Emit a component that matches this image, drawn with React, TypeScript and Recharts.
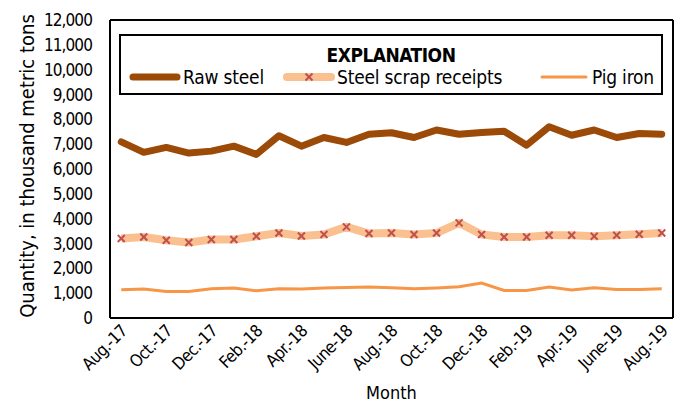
import { LineChart, Line, XAxis, YAxis, Legend } from "recharts";

const months = [
  "Aug.-17", "Sept.-17", "Oct.-17", "Nov.-17", "Dec.-17", "Jan.-18", "Feb.-18",
  "Mar.-18", "Apr.-18", "May-18", "June-18", "July-18", "Aug.-18", "Sept.-18",
  "Oct.-18", "Nov.-18", "Dec.-18", "Jan.-19", "Feb.-19", "Mar.-19", "Apr.-19",
  "May-19", "June-19", "July-19", "Aug.-19",
];

const rawSteel = [
  7090, 6670, 6870, 6640, 6720, 6920, 6590, 7340, 6920, 7270, 7070, 7400, 7460,
  7270, 7570, 7400, 7470, 7520, 6960, 7700, 7360, 7570, 7270, 7430, 7400,
];

const scrapReceipts = [
  3200, 3260, 3130, 3040, 3160, 3160, 3290, 3420, 3300, 3360, 3670, 3400, 3420,
  3360, 3420, 3830, 3360, 3260, 3260, 3330, 3330, 3290, 3330, 3370, 3420,
];

const pigIron = [
  1140, 1165, 1070, 1070, 1180, 1210, 1100, 1180, 1165, 1210, 1230, 1250, 1220,
  1180, 1210, 1260, 1410, 1110, 1110, 1250, 1125, 1220, 1150, 1150, 1180,
];

const yTicks = [0, 1000, 2000, 3000, 4000, 5000, 6000, 7000, 8000, 9000, 10000, 11000, 12000];
const labelTicks = [0, 2, 4, 6, 8, 10, 12, 14, 16, 18, 20, 22, 24];
const boundaryTicks = [
  -0.5, 0.5, 1.5, 2.5, 3.5, 4.5, 5.5, 6.5, 7.5, 8.5, 9.5, 10.5, 11.5, 12.5,
  13.5, 14.5, 15.5, 16.5, 17.5, 18.5, 19.5, 20.5, 21.5, 22.5, 23.5, 24.5,
];

const data = months.map((month, i) => ({
  i,
  month,
  raw: rawSteel[i],
  scrap: scrapReceipts[i],
  pig: pigIron[i],
}));

const FONT = "'Liberation Sans Narrow', 'Arial Narrow', 'DejaVu Sans Condensed', sans-serif";
const RAW = "#9B4A07";
const SCRAP = "#FAC090";
const SCRAP_X = "#C0504D";
const PIG = "#F79646";

const frameLine = { stroke: "#000", strokeWidth: 2 };
const frameTick = { stroke: "#000", strokeWidth: 1.5 };

const MonthTick = (props: any) => {
  const { x, y, payload } = props;
  const ax = x + 7;
  const ay = y + 14;
  return (
    <text
      x={ax}
      y={ay}
      transform={`rotate(-45 ${ax} ${ay})`}
      textAnchor="end"
      fontFamily={FONT}
      fontSize={17}
      letterSpacing={-0.6}
      fill="#000"
    >
      {months[payload.value]}
    </text>
  );
};

const XMark = (props: any) => {
  const { cx, cy } = props;
  if (cx == null || cy == null) return null;
  return (
    <g stroke={SCRAP_X} strokeWidth={2}>
      <line x1={cx - 3.5} y1={cy - 3.5} x2={cx + 3.5} y2={cy + 3.5} />
      <line x1={cx - 3.5} y1={cy + 3.5} x2={cx + 3.5} y2={cy - 3.5} />
    </g>
  );
};

const Swatch = ({ color, width, marker }: { color: string; width: number; marker?: boolean }) => (
  <svg width={52} height={14} style={{ display: "block" }}>
    <line x1={4} y1={7} x2={48} y2={7} stroke={color} strokeWidth={width} strokeLinecap="round" />
    {marker && (
      <g stroke={SCRAP_X} strokeWidth={2}>
        <line x1={22.5} y1={3.5} x2={29.5} y2={10.5} />
        <line x1={22.5} y1={10.5} x2={29.5} y2={3.5} />
      </g>
    )}
  </svg>
);

const Explanation = () => {
  const items = [
    { name: "Raw steel", color: RAW, width: 7, w: 154 },
    { name: "Steel scrap receipts", color: SCRAP, width: 8, marker: true, w: 255 },
    { name: "Pig iron", color: PIG, width: 3, w: 120 },
  ];
  return (
    <div
      style={{
        width: 544,
        height: 61,
        boxSizing: "border-box",
        border: "2px solid #000",
        background: "#fff",
        fontFamily: FONT,
        color: "#000",
      }}
    >
      <div style={{ textAlign: "center", fontWeight: "bold", fontSize: 19, lineHeight: "20px", marginTop: 9, letterSpacing: -0.5 }}>
        EXPLANATION
      </div>
      <div style={{ display: "flex", paddingLeft: 8, marginTop: 1 }}>
        {items.map((it) => (
          <div key={it.name} style={{ display: "flex", alignItems: "center", width: it.w }}>
            <Swatch color={it.color} width={it.width} marker={it.marker} />
            <span style={{ fontSize: 19, lineHeight: "22px", marginLeft: 2, letterSpacing: -0.2 }}>{it.name}</span>
          </div>
        ))}
      </div>
    </div>
  );
};

export default function App() {
  return (
    <div style={{ position: "absolute", left: 0, top: 0, background: "#fff" }}>
      <LineChart width={678} height={406} data={data} margin={{ top: 20, right: 5, bottom: 0, left: 0 }}>
        <XAxis
          xAxisId="frameBottom"
          dataKey="i"
          type="number"
          domain={[-0.5, 24.5]}
          allowDataOverflow
          ticks={boundaryTicks}
          interval={0}
          mirror
          height={20}
          tick={false}
          tickSize={7}
          axisLine={frameLine}
          tickLine={frameTick}
        />
        <XAxis
          xAxisId="x"
          dataKey="i"
          type="number"
          domain={[-0.5, 24.5]}
          allowDataOverflow
          ticks={labelTicks}
          interval={0}
          height={88}
          axisLine={false}
          tickLine={false}
          tickSize={0}
          tickMargin={0}
          tick={<MonthTick />}
          label={{
            content: (p: any) => {
              const vb = p.viewBox;
              return (
                <text x={vb.x + vb.width / 2} y={399} textAnchor="middle" fontFamily={FONT} fontSize={18} fill="#000">
                  Month
                </text>
              );
            },
          }}
        />
        <XAxis
          xAxisId="frameTop"
          orientation="top"
          dataKey="i"
          type="number"
          domain={[-0.5, 24.5]}
          allowDataOverflow
          ticks={boundaryTicks}
          interval={0}
          mirror
          height={20}
          tick={false}
          tickSize={7}
          axisLine={frameLine}
          tickLine={frameTick}
        />
        <YAxis
          yAxisId="frameLeft"
          type="number"
          domain={[0, 12000]}
          allowDataOverflow
          ticks={yTicks}
          interval={0}
          mirror
          width={20}
          tick={false}
          tickSize={7}
          axisLine={frameLine}
          tickLine={frameTick}
        />
        <YAxis
          yAxisId="y"
          type="number"
          domain={[0, 12000]}
          allowDataOverflow
          ticks={yTicks}
          interval={0}
          width={110}
          axisLine={false}
          tickLine={false}
          tickSize={0}
          tickMargin={18}
          tickFormatter={(v: number) => v.toLocaleString("en-US")}
          tick={{ fill: "#000", fontFamily: FONT, fontSize: 17, letterSpacing: -0.9 }}
          label={{
            content: (p: any) => {
              const vb = p.viewBox;
              const cx = 27;
              const cy = vb.y + vb.height / 2 - 3;
              return (
                <text
                  x={cx}
                  y={cy}
                  transform={`rotate(-90 ${cx} ${cy})`}
                  textAnchor="middle"
                  dominantBaseline="central"
                  fontFamily={FONT}
                  fontSize={20}
                  fill="#000"
                >
                  Quantity, in thousand metric tons
                </text>
              );
            },
          }}
        />
        <YAxis
          yAxisId="frameRight"
          orientation="right"
          type="number"
          domain={[0, 12000]}
          allowDataOverflow
          ticks={yTicks}
          interval={0}
          mirror
          width={20}
          tick={false}
          tickSize={7}
          axisLine={frameLine}
          tickLine={frameTick}
        />
        <Legend
          layout="vertical"
          align="center"
          verticalAlign="middle"
          content={<Explanation />}
          wrapperStyle={{ position: "absolute", left: 119, top: 34, width: 544, height: 61 }}
        />
        <Line
          xAxisId="x"
          yAxisId="y"
          dataKey="pig"
          name="Pig iron"
          stroke={PIG}
          strokeWidth={3}
          dot={false}
          isAnimationActive={false}
        />
        <Line
          xAxisId="x"
          yAxisId="y"
          dataKey="scrap"
          name="Steel scrap receipts"
          stroke={SCRAP}
          strokeWidth={8}
          strokeLinejoin="round"
          dot={<XMark />}
          isAnimationActive={false}
        />
        <Line
          xAxisId="x"
          yAxisId="y"
          dataKey="raw"
          name="Raw steel"
          stroke={RAW}
          strokeWidth={7}
          strokeLinecap="round"
          strokeLinejoin="round"
          dot={false}
          isAnimationActive={false}
        />
      </LineChart>
    </div>
  );
}
